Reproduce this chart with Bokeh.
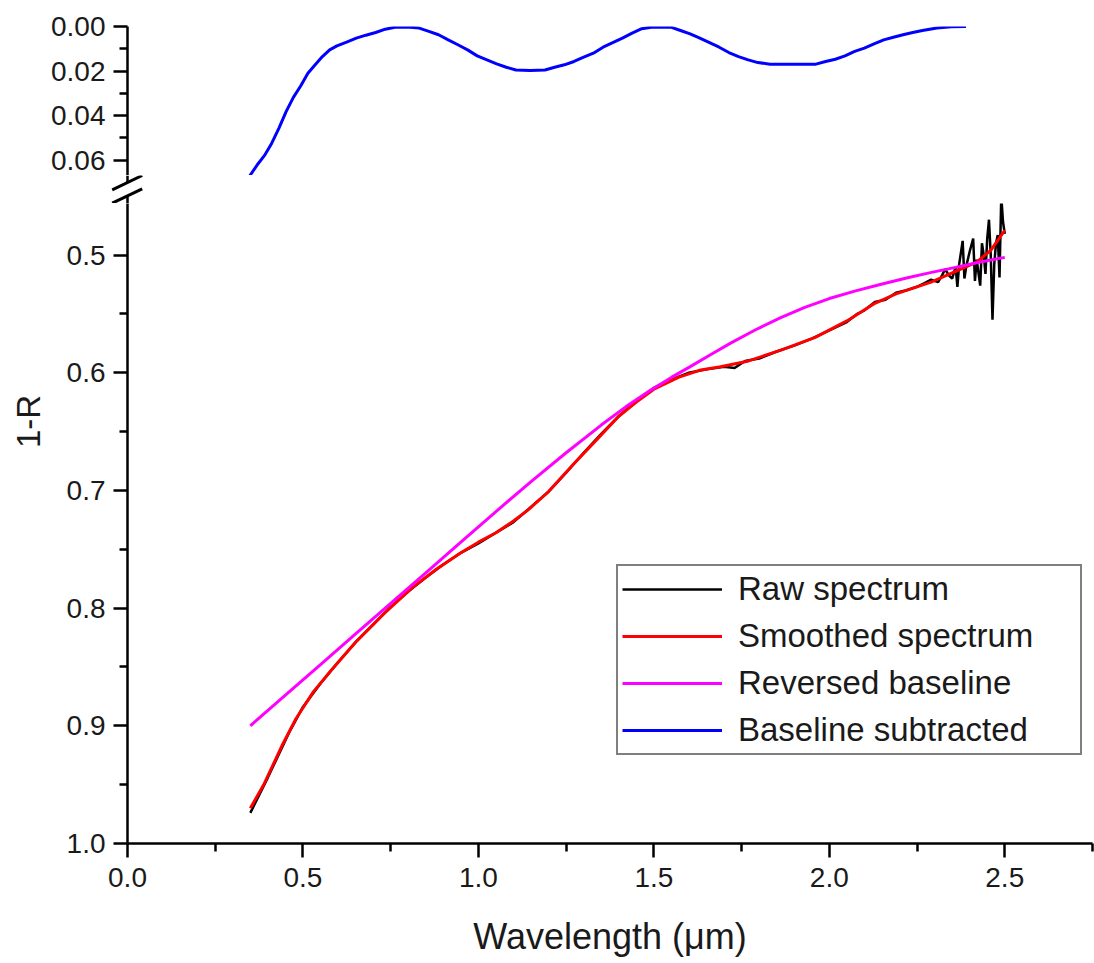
import math
from bokeh.plotting import figure
from bokeh.models import (Range1d, FixedTicker, PrintfTickFormatter, Legend, LegendItem, Spacer)
from bokeh.layouts import column, row
from bokeh.core.properties import value
from bokeh.embed import file_html
from bokeh.resources import INLINE

# ---------------- data ----------------
wl_raw = [0.35, 0.37, 0.40, 0.43, 0.46, 0.50, 0.55, 0.60, 0.65, 0.70, 0.75, 0.80, 0.85, 0.90,
          0.95, 1.00, 1.05, 1.10, 1.15, 1.20, 1.25, 1.30, 1.35, 1.40, 1.45, 1.50, 1.55, 1.60,
          1.65, 1.70, 1.73, 1.76, 1.80, 1.85, 1.90, 1.95, 2.00, 2.05, 2.08, 2.10, 2.13, 2.16,
          2.19, 2.22, 2.25, 2.27, 2.29, 2.31, 2.32, 2.33, 2.34, 2.35, 2.36, 2.365, 2.37, 2.38,
          2.385, 2.39, 2.40, 2.41, 2.415, 2.42, 2.43, 2.435, 2.44, 2.445, 2.45, 2.455, 2.46,
          2.465, 2.47, 2.475, 2.48, 2.485, 2.49, 2.495, 2.50]
r_raw = [0.974, 0.962, 0.944, 0.925, 0.906, 0.884, 0.864, 0.846, 0.829, 0.814, 0.799, 0.786,
         0.774, 0.763, 0.753, 0.745, 0.736, 0.727, 0.714, 0.701, 0.685, 0.668, 0.652, 0.637,
         0.624, 0.613, 0.606, 0.600, 0.597, 0.595, 0.596, 0.590, 0.588, 0.582, 0.577, 0.571,
         0.564, 0.557, 0.550, 0.547, 0.540, 0.538, 0.532, 0.530, 0.527, 0.524, 0.521, 0.523,
         0.518, 0.512, 0.517, 0.520, 0.510, 0.527, 0.508, 0.488, 0.520, 0.510, 0.497, 0.486,
         0.522, 0.504, 0.526, 0.490, 0.500, 0.516, 0.486, 0.470, 0.500, 0.555, 0.508, 0.490,
         0.483, 0.519, 0.450, 0.472, 0.482]

wl_smooth = [0.35, 0.39, 0.44, 0.48, 0.53, 0.58, 0.65, 0.73, 0.81, 0.88, 0.95, 1.00, 1.05,
             1.10, 1.14, 1.20, 1.27, 1.34, 1.40, 1.45, 1.50, 1.57, 1.63, 1.69, 1.77, 1.86,
             1.96, 2.05, 2.13, 2.19, 2.29, 2.36, 2.42, 2.46, 2.50]
r_smooth = [0.970, 0.949, 0.917, 0.894, 0.871, 0.853, 0.829, 0.805, 0.783, 0.767, 0.753,
            0.744, 0.736, 0.726, 0.717, 0.701, 0.678, 0.656, 0.637, 0.625, 0.614, 0.604,
            0.598, 0.595, 0.590, 0.581, 0.570, 0.556, 0.541, 0.533, 0.523, 0.514, 0.506,
            0.496, 0.479]

wl_base = [0.35, 0.45, 0.55, 0.65, 0.75, 0.85, 0.95, 1.05, 1.15, 1.25, 1.35, 1.42, 1.49,
           1.55, 1.60, 1.66, 1.72, 1.79, 1.86, 1.93, 2.00, 2.075, 2.145, 2.22, 2.288, 2.36,
           2.43, 2.50]
r_base = [0.900, 0.874, 0.848, 0.822, 0.796, 0.770, 0.744, 0.718, 0.6925, 0.668, 0.6445,
          0.629, 0.615, 0.604, 0.5955, 0.585, 0.5747, 0.5635, 0.5535, 0.5445, 0.537, 0.5305,
          0.525, 0.5195, 0.515, 0.5105, 0.506, 0.502]

wl_sub = [0.3486, 0.3693, 0.3900, 0.4107, 0.4313, 0.4520, 0.4727, 0.4934, 0.5141, 0.5348,
          0.5554, 0.5761, 0.5968, 0.6244, 0.6520, 0.6795, 0.7071, 0.7347, 0.7623, 0.7967,
          0.8312, 0.8588, 0.8864, 0.9140, 0.9415, 0.9691, 0.9967, 1.0243, 1.0519, 1.0794,
          1.1070, 1.1480, 1.1897, 1.2173, 1.2449, 1.2725, 1.3001, 1.3276, 1.3552, 1.3828,
          1.4104, 1.4380, 1.4655, 1.4931, 1.5207, 1.5483, 1.5759, 1.6034, 1.6310, 1.6586,
          1.6862, 1.7137, 1.7413, 1.7689, 1.7965, 1.8309, 1.8964, 1.9619, 1.9895, 2.0171,
          2.0447, 2.0723, 2.0998, 2.1274, 2.1550, 2.1826, 2.2102, 2.2377, 2.2653, 2.3067,
          2.3480, 2.3894]
d_sub = [0.0670, 0.0622, 0.0580, 0.0525, 0.0457, 0.0382, 0.0318, 0.0267, 0.0210, 0.0172,
         0.0135, 0.0105, 0.0087, 0.0070, 0.0052, 0.0039, 0.0027, 0.0012, 0.0003, 0.0002,
         0.0007, 0.0022, 0.0037, 0.0060, 0.0082, 0.0105, 0.0132, 0.0150, 0.0168, 0.0183,
         0.0195, 0.0197, 0.0195, 0.0183, 0.0172, 0.0157, 0.0138, 0.0120, 0.0093, 0.0072,
         0.0052, 0.0030, 0.0010, 0.0003, 0.0002, 0.0003, 0.0018, 0.0033, 0.0052, 0.0072,
         0.0093, 0.0117, 0.0135, 0.0150, 0.0162, 0.0169, 0.0170, 0.0169, 0.0157, 0.0147,
         0.0132, 0.0112, 0.0097, 0.0078, 0.0060, 0.0048, 0.0037, 0.0027, 0.0018, 0.0007,
         0.0001, 0.0000]

x_ticks = [0.0, 0.5, 1.0, 1.5, 2.0, 2.5]
x_minor = [0.25, 0.75, 1.25, 1.75, 2.25, 2.75]
top_ticks = [0.00, 0.02, 0.04, 0.06]
top_minor = [0.01, 0.03, 0.05]
bot_ticks = [0.5, 0.6, 0.7, 0.8, 0.9, 1.0]
bot_minor = [0.55, 0.65, 0.75, 0.85, 0.95]

series_names = ["Raw spectrum", "Smoothed spectrum", "Reversed baseline", "Baseline subtracted"]
series_colors = ["#000000", "#FF0000", "#FF00FF", "#0000FF"]
y_title = "1-R"
x_title = "Wavelength (\u03bcm)"

# ---------------- layout constants (pixels) ----------------
FONT = "Liberation Sans"
TEXT_COLOR = "#1a1a1a"
LABEL_W = 47          # strip holding the y title
MAIN_W = 1094 - LABEL_W
LEFT = 127 - LABEL_W  # left border of the panels -> frames start at page x = 127
RIGHT = 2
TOP_H = 175           # upper panel, frame from y=26 to y=175
GAP_H = 28            # axis-break strip, y=175..203
BOT_H = 757           # lower panel, frame from y=203 to y=843
BOT_FRAME_H = 640
TOTAL_H = TOP_H + GAP_H + BOT_H


def style_axis(ax, standoff):
    ax.axis_line_width = 2.5
    ax.axis_line_color = "black"
    ax.major_tick_line_width = 2.5
    ax.minor_tick_line_width = 2.5
    ax.major_tick_line_color = "black"
    ax.minor_tick_line_color = "black"
    ax.major_tick_in = 0
    ax.major_tick_out = 14
    ax.minor_tick_in = 0
    ax.minor_tick_out = 8
    ax.major_label_text_font = FONT
    ax.major_label_text_font_size = "28px"
    ax.major_label_text_color = TEXT_COLOR
    ax.major_label_standoff = standoff


def bare(fig):
    fig.outline_line_color = None
    fig.grid.visible = False
    fig.background_fill_color = "white"
    fig.border_fill_color = "white"


x_range = Range1d(0, 2.75)

# ---------------- upper panel ----------------
top = figure(width=MAIN_W, height=TOP_H, x_range=x_range, y_range=Range1d(0.0669, 0.0),
             output_backend="svg", toolbar_location=None, x_axis_location=None,
             min_border_left=LEFT, min_border_right=RIGHT, min_border_top=26,
             min_border_bottom=0)
bare(top)
style_axis(top.yaxis[0], 8)
top.yaxis[0].ticker = FixedTicker(ticks=top_ticks, minor_ticks=top_minor)
top.yaxis[0].formatter = PrintfTickFormatter(format="%.2f")
top.line(wl_sub, d_sub, line_color=series_colors[3], line_width=3)

# ---------------- axis-break strip (page pixel coordinates) ----------------
brk = figure(width=60, height=GAP_H, x_range=Range1d(100, 160), y_range=Range1d(203, 175),
             output_backend="svg", toolbar_location=None, x_axis_location=None,
             y_axis_location=None, min_border=0)
bare(brk)
brk.segment(x0=[111.7, 111.7], y0=[189.3, 202.7], x1=[141.7, 141.7], y1=[175.0, 188.3],
            line_color="black", line_width=3)
brk.segment(x0=[127, 127], y0=[175, 196.5], x1=[127, 127], y1=[182.2, 203],
            line_color="black", line_width=2.5)
gap_row = row(Spacer(width=100 - LABEL_W, height=GAP_H), brk,
              Spacer(width=MAIN_W - (160 - LABEL_W), height=GAP_H), spacing=0)

# ---------------- lower panel ----------------
bot = figure(width=MAIN_W, height=BOT_H, x_range=x_range,
             y_range=Range1d(1.0, 1.0 - BOT_FRAME_H / 1177.0),
             output_backend="svg", toolbar_location=None,
             min_border_left=LEFT, min_border_right=RIGHT, min_border_top=0,
             min_border_bottom=BOT_H - BOT_FRAME_H)
bare(bot)
style_axis(bot.yaxis[0], 8)
style_axis(bot.xaxis[0], 10)
bot.yaxis[0].ticker = FixedTicker(ticks=bot_ticks, minor_ticks=bot_minor)
bot.yaxis[0].formatter = PrintfTickFormatter(format="%.1f")
bot.xaxis[0].ticker = FixedTicker(ticks=x_ticks, minor_ticks=x_minor)
bot.xaxis[0].formatter = PrintfTickFormatter(format="%.1f")
bot.xaxis[0].axis_label = x_title
bot.xaxis[0].axis_label_text_font = FONT
bot.xaxis[0].axis_label_text_font_style = "normal"
bot.xaxis[0].axis_label_text_font_size = "36px"
bot.xaxis[0].axis_label_text_color = TEXT_COLOR
bot.xaxis[0].axis_label_standoff = 26

r_raw_l = bot.line(wl_raw, r_raw, line_color=series_colors[0], line_width=2.5)
r_smooth_l = bot.line(wl_smooth, r_smooth, line_color=series_colors[1], line_width=3)
r_base_l = bot.line(wl_base, r_base, line_color=series_colors[2], line_width=3)
# legend entry for the blue series (its visible curve lives in the upper panel)
r_blue_proxy = bot.line(wl_sub, d_sub, line_color=series_colors[3], line_width=3,
                        visible=False)

legend = Legend(items=[
    LegendItem(label=series_names[0], renderers=[r_raw_l]),
    LegendItem(label=series_names[1], renderers=[r_smooth_l]),
    LegendItem(label=series_names[2], renderers=[r_base_l]),
    LegendItem(label=series_names[3], renderers=[r_blue_proxy]),
], location=(489, 88))
legend.label_text_font = FONT
legend.label_text_font_size = "33px"
legend.label_text_color = TEXT_COLOR
legend.glyph_width = 100
legend.glyph_height = 38
legend.label_height = 38
legend.label_width = 338
legend.label_standoff = 16
legend.spacing = 9
legend.padding = 4
legend.margin = 0
legend.border_line_color = "black"
legend.border_line_width = 2
legend.background_fill_color = "white"
legend.background_fill_alpha = 1.0
legend.inactive_fill_alpha = 0.0
bot.add_layout(legend, "center")

# ---------------- y title strip (page pixel coordinates) ----------------
ylab = figure(width=LABEL_W, height=TOTAL_H, x_range=Range1d(0, LABEL_W),
              y_range=Range1d(TOTAL_H, 0), output_backend="svg", toolbar_location=None,
              x_axis_location=None, y_axis_location=None, min_border=0)
bare(ylab)
ylab.text(x=[28], y=[421], text=[y_title], angle=math.pi / 2, text_align="center",
          text_baseline="middle", text_font=value(FONT), text_font_size="33px",
          text_color=TEXT_COLOR)

layout = row(ylab, column(top, gap_row, bot, spacing=0), spacing=0)

with open("out.html", "w") as f:
    f.write(file_html(layout, INLINE))
